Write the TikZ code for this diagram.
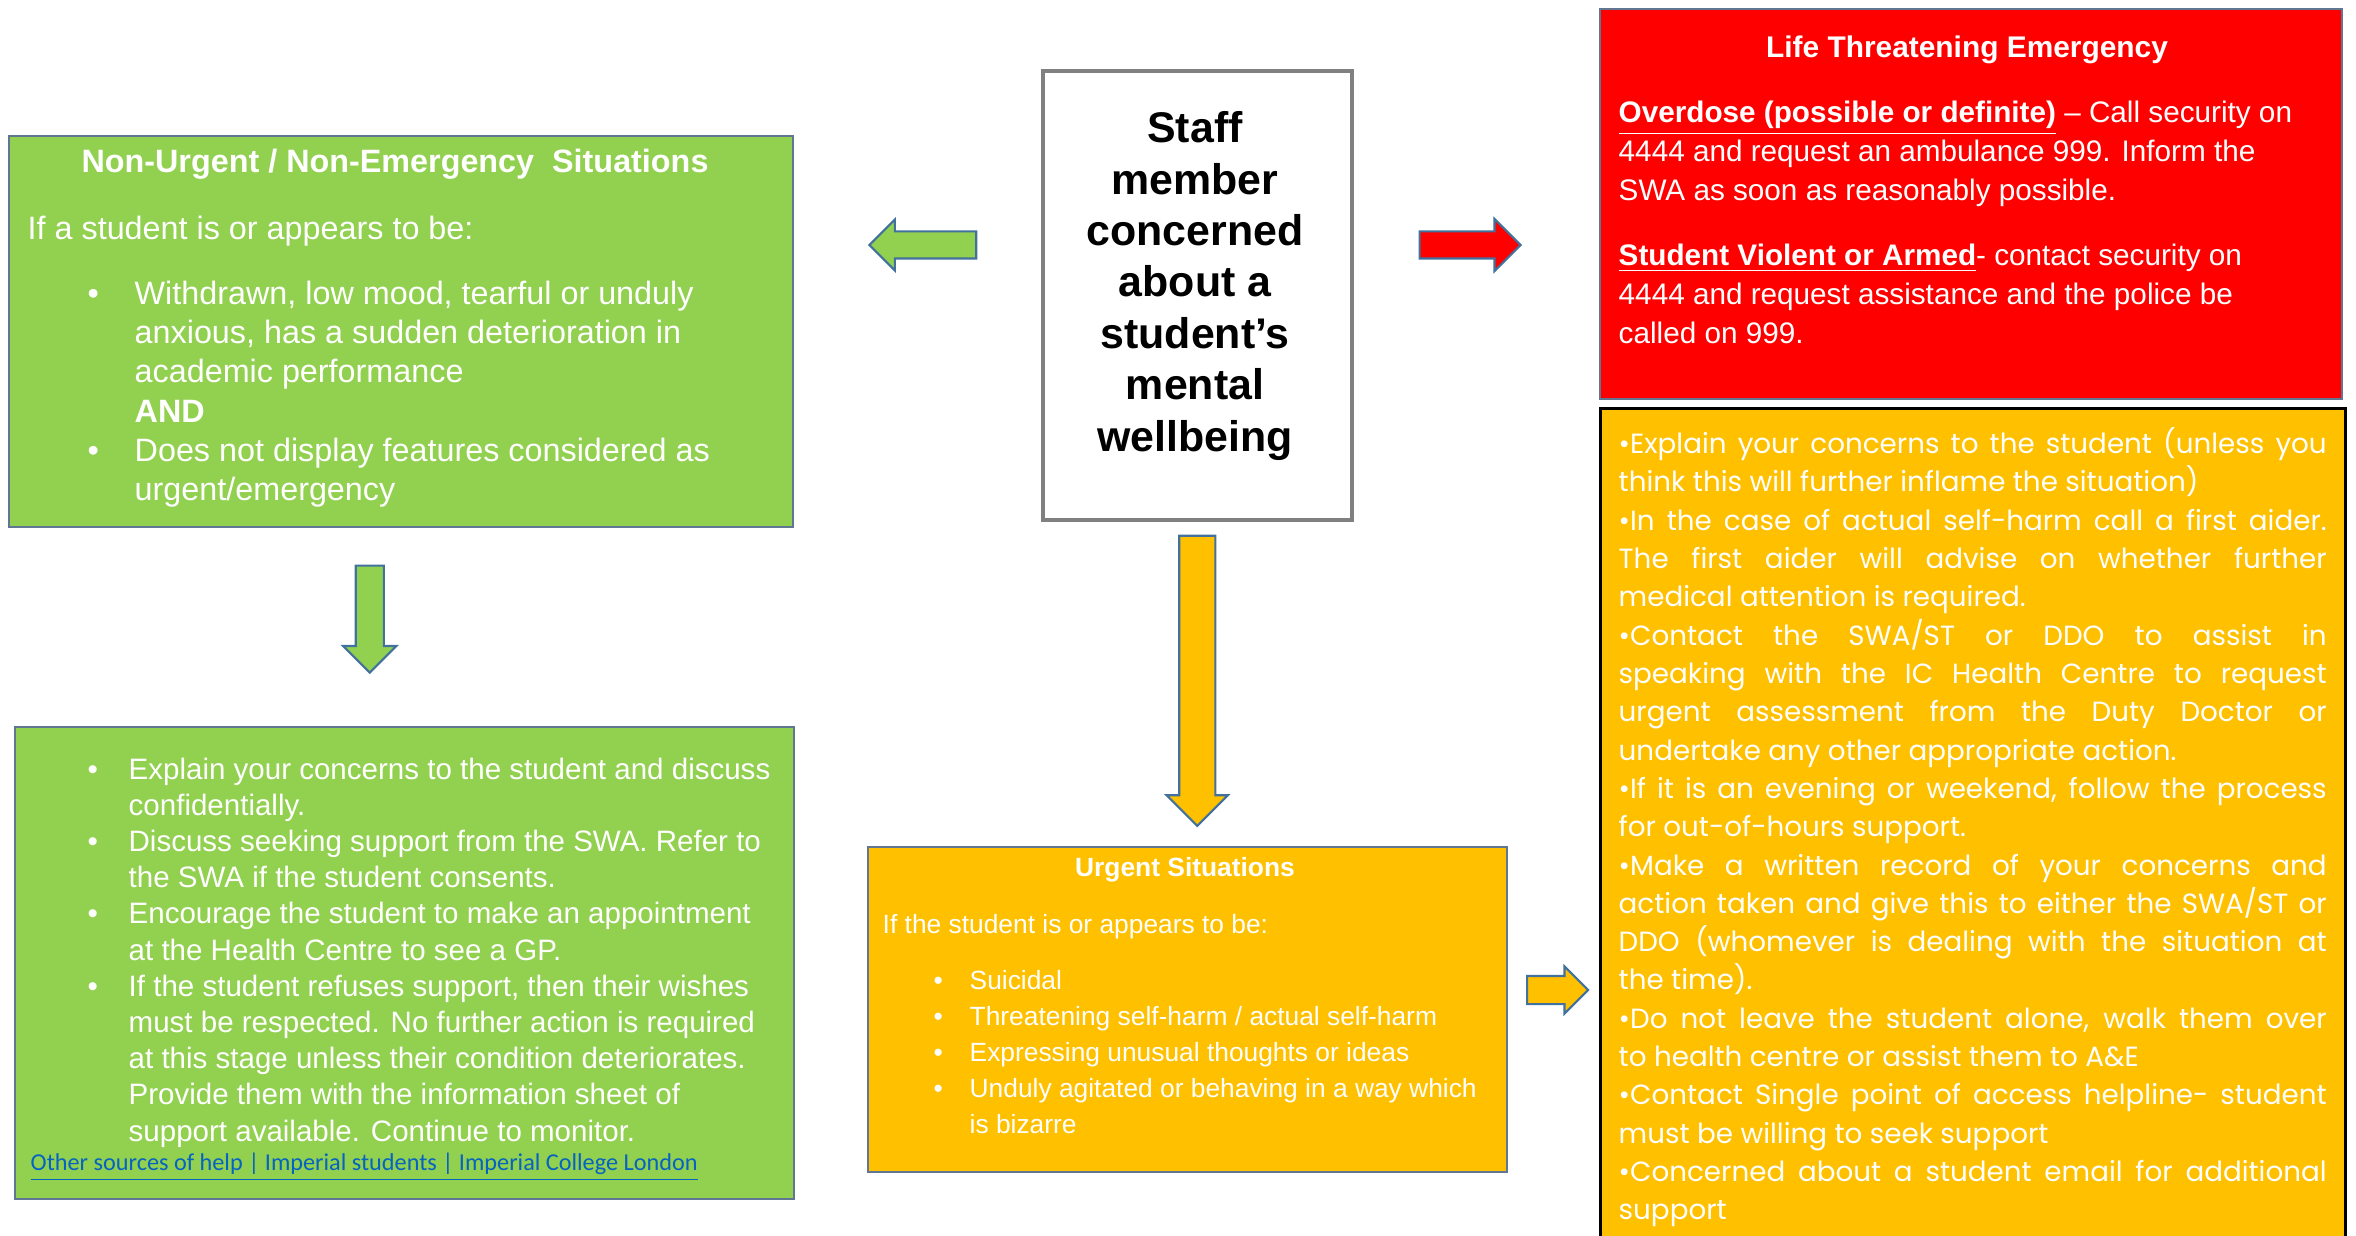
\documentclass[tikz,border=0pt]{standalone}
\usepackage{fontspec}
\setmainfont{Liberation Sans}
\newfontfamily\gothic{Poppins}
\newfontfamily\linkfont{Carlito}
\usetikzlibrary{shapes.arrows,calc}

\definecolor{nugreen}{RGB}{146,208,80}
\definecolor{urgorange}{RGB}{255,192,0}
\definecolor{emred}{RGB}{255,0,0}
\definecolor{boxline}{RGB}{96,118,146}
\definecolor{arrowline}{RGB}{65,113,156}
\definecolor{linkblue}{RGB}{5,99,193}

%bullet with indent before and gap after
\newcommand{\bul}[2]{\hspace*{#1}\makebox[#2][l]{•}}

\begin{document}
\begin{tikzpicture}[
	panel/.style={draw=boxline, line width=0.6pt, anchor=north west, inner sep=0pt},
	paneltext/.style={text=white, anchor=north west, inner sep=0pt, align=left},
	paneltitle/.style={text=white, inner sep=0pt},
	blockarrow/.style={single arrow, draw=arrowline, line width=0.6pt}
]
	\useasboundingbox (0,0) rectangle (23.56,-12.36);
	%Boxes
		%Staff member
		\node[panel, draw=black!50, line width=1pt, fill=white, minimum width=3.09cm, minimum height=4.49cm] (staff) at (10.41,-0.69) {};
		%Non-urgent
		\node[panel, fill=nugreen, minimum width=7.84cm, minimum height=3.91cm] (nonurg) at (0.08,-1.35) {};
		%Non-urgent actions
		\node[panel, fill=nugreen, minimum width=7.79cm, minimum height=4.72cm] (support) at (0.14,-7.26) {};
		%Urgent
		\node[panel, fill=urgorange, minimum width=6.39cm, minimum height=3.25cm] (urgent) at (8.67,-8.46) {};
		%Emergency
		\node[panel, fill=emred, minimum width=7.42cm, minimum height=3.90cm] (emerg) at (15.99,-0.08) {};
		%Urgent actions
		\node[panel, draw=black, line width=0.9pt, fill=urgorange, minimum width=7.45cm, minimum height=8.45cm] (actions) at (15.99,-4.07) {};
	%Arrows
		\coordinate (arrowrow) at (0,-2.45);
		\coordinate (midL) at ($(nonurg.east)!0.5!(staff.west)$);
		\coordinate (midR) at ($(staff.east)!0.5!(emerg.west)$);
		\coordinate (midU) at ($(staff.south)!0.5!(urgent.north -| staff.south)$);
		\coordinate (midD) at ($(nonurg.south)!0.5!(support.north)$);
		\coordinate (midA) at ($(urgent.east)!0.5!(actions.west)$);
		\node[blockarrow, fill=nugreen, shape border rotate=180, minimum height=1.07cm, inner sep=0.125cm, single arrow head extend=0.12cm] (toNonUrg) at ([xshift=0.12cm]midL |- arrowrow) {};
		\node[blockarrow, fill=emred, minimum height=1.01cm, inner sep=0.125cm, single arrow head extend=0.125cm] (toEmerg) at ([xshift=-0.13cm]midR |- arrowrow) {};
		\node[blockarrow, fill=urgorange, shape border rotate=270, minimum height=2.90cm, inner sep=0.17cm, single arrow head extend=0.125cm] (toUrgent) at ([yshift=0.12cm]midU) {};
		\node[blockarrow, fill=nugreen, shape border rotate=270, minimum height=1.07cm, inner sep=0.13cm, single arrow head extend=0.125cm] (toSupport) at ([xshift=-0.33cm, yshift=0.15cm]midD) {};
		\node[blockarrow, fill=urgorange, minimum height=0.61cm, inner sep=0.13cm, single arrow head extend=0.095cm] (toActions) at ([xshift=-0.03cm]midA |- 0,-9.90) {};
	%Staff member text
		\node[inner sep=0pt, align=center, font=\bfseries\fontsize{12.2}{14.65}\selectfont] (staffText) at (11.95,-2.86) {Staff\\member\\concerned\\about a\\student’s\\mental\\wellbeing};
	%Non-urgent text
		\node[paneltitle, font=\bfseries\fontsize{9.2}{11}\selectfont] (nonurgTitle) at (3.95,-1.64) {Non-Urgent / Non-Emergency\ \ Situations};
		\node[paneltext, font=\fontsize{9.2}{11.2}\selectfont] (nonurgText) at (0.27,-2.15) {If a student is or appears to be:\\[7.3pt]
			\bul{0.6cm}{0.47cm}Withdrawn, low mood, tearful or unduly\\
			\hspace*{1.07cm}anxious, has a sudden deterioration in\\
			\hspace*{1.07cm}academic performance\\
			\hspace*{1.07cm}\textbf{AND}\\
			\bul{0.6cm}{0.47cm}Does not display features considered as\\
			\hspace*{1.07cm}urgent/emergency};
	%Non-urgent actions text
		\node[paneltext, font=\fontsize{8.4}{10.3}\selectfont] (supportText) at (0.87,-7.57) {\bul{0cm}{0.41cm}Explain your concerns to the student and discuss\\
			\hspace*{0.41cm}confidentially.\\
			\bul{0cm}{0.41cm}Discuss seeking support from the SWA. Refer to\\
			\hspace*{0.41cm}the SWA if the student consents.\\
			\bul{0cm}{0.41cm}Encourage the student to make an appointment\\
			\hspace*{0.41cm}at the Health Centre to see a GP.\\
			\bul{0cm}{0.41cm}If the student refuses support, then their wishes\\
			\hspace*{0.41cm}must be respected. No further action is required\\
			\hspace*{0.41cm}at this stage unless their condition deteriorates.\\
			\hspace*{0.41cm}Provide them with the information sheet of\\
			\hspace*{0.41cm}support available. Continue to monitor.};
		\node[anchor=west, inner sep=0pt, text=linkblue, font=\linkfont\fontsize{6.9}{8}\selectfont] (helpLink) at (0.30,-11.67) {\underline{Other sources of help | Imperial students | Imperial College London}};
	%Urgent text
		\node[paneltitle, font=\bfseries\fontsize{7.5}{9}\selectfont] (urgentTitle) at (11.85,-8.70) {Urgent Situations};
		\node[paneltext, font=\fontsize{7.5}{10.2}\selectfont] (urgentText) at (8.82,-9.14) {If the student is or appears to be:\\[5.7pt]
			\bul{0.51cm}{0.36cm}Suicidal\\
			\bul{0.51cm}{0.36cm}Threatening self-harm / actual self-harm\\
			\bul{0.51cm}{0.36cm}Expressing unusual thoughts or ideas\\
			\bul{0.51cm}{0.36cm}Unduly agitated or behaving in a way which\\
			\hspace*{0.87cm}is bizarre};
	%Emergency text
		\node[paneltitle, font=\bfseries\fontsize{8.5}{10}\selectfont] (emergTitle) at (19.67,-0.50) {Life Threatening Emergency};
		\node[paneltext, font=\fontsize{8.45}{11.1}\selectfont] (emergText) at (16.18,-1.00) {\underline{\textbf{Overdose (possible or definite)}} – Call security on\\
			4444 and request an ambulance 999. Inform the\\
			SWA as soon as reasonably possible.\\[7.4pt]
			\underline{\textbf{Student Violent or Armed}}- contact security on\\
			4444 and request assistance and the police be\\
			called on 999.};
	%Urgent actions text
		\node[paneltext, text width=7.08cm, align=justify, font=\gothic\fontsize{7.9}{10.9}\selectfont] (actionsText) at (16.18,-4.27) {\tolerance=10000 \hyphenpenalty=10000 •Explain your concerns to the student (unless you\linebreak think this will further inflame the situation)\par
			•In the case of actual self-harm call a first aider.\linebreak The first aider will advise on whether further\linebreak medical attention is required.\par
			•Contact the SWA/ST or DDO to assist in\linebreak speaking with the IC Health Centre to request\linebreak urgent assessment from the Duty Doctor or\linebreak undertake any other appropriate action.\par
			•If it is an evening or weekend, follow the process\linebreak for out-of-hours support.\par
			•Make a written record of your concerns and\linebreak action taken and give this to either the SWA/ST or\linebreak DDO (whomever is dealing with the situation at\linebreak the time).\par
			•Do not leave the student alone, walk them over\linebreak to health centre or assist them to A\&E\par
			•Contact Single point of access helpline- student\linebreak must be willing to seek support\par
			•Concerned about a student email for additional\linebreak support};
\end{tikzpicture}
\end{document}
